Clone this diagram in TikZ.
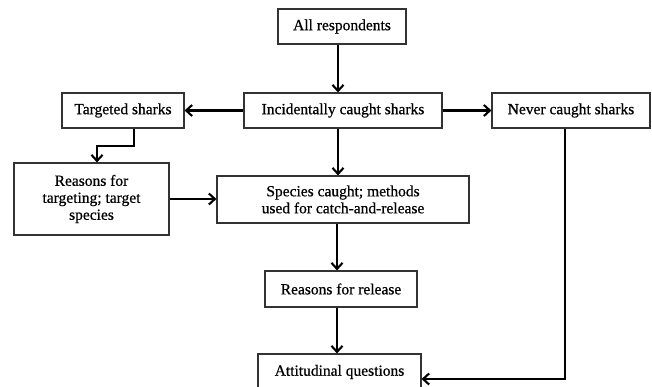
\documentclass[tikz,border=0pt]{standalone}
\usepackage{fontspec}
\setmainfont{Liberation Serif}[FakeBold=0.6]
\usetikzlibrary{arrows.meta}
\begin{document}
\begin{tikzpicture}[x=1pt,y=-1pt,
  box/.style={draw=black!80,line width=1.1pt,fill=white,inner sep=2pt,align=center,font=\fontsize{15.5}{17}\selectfont},
  arr/.style={line width=2.1pt,-{Straight Barb[length=6pt,width=11pt]}},
  ln/.style={line width=2.1pt}]
\useasboundingbox (0,0) rectangle (652,387);
\node[box,minimum width=128pt,minimum height=35pt] (all) at (342,26.5) {All respondents};
\node[box,minimum width=198pt,minimum height=35pt] (inc) at (343,110.5) {Incidentally caught sharks};
\node[box,minimum width=122pt,minimum height=35pt] (tgt) at (123,110.5) {Targeted sharks};
\node[box,minimum width=158pt,minimum height=35pt] (nev) at (571,110.5) {Never caught sharks};
\node[box,minimum width=155pt,minimum height=72pt] (rft) at (91.5,199) {Reasons for\\targeting; target\\species};
\node[box,minimum width=252pt,minimum height=47pt] (spc) at (343,199.5) {Species caught; methods\\used for catch-and-release};
\node[box,minimum width=152pt,minimum height=36pt] (rel) at (341,289) {Reasons for release};
\node[box,minimum width=163pt,minimum height=36pt] (att) at (339.5,372) {Attitudinal questions};
\coordinate (tb) at (134,146);
\coordinate (nb) at (565,379);
\draw[arr] ([xshift=-4pt]all.south) -- ([xshift=-4pt]all.south |- inc.north);
\draw[arr] (inc.west) -- (tgt.east);
\draw[arr] (inc.east) -- (nev.east -| nev.west);
\draw[arr] (tgt.south -| tb) -- (tb) -| ([xshift=5.5pt]rft.north);
\draw[arr] ([xshift=-5pt]inc.south) -- ([xshift=-5pt]inc.south |- spc.north);
\draw[arr] (rft.east) -- (rft.east -| spc.west);
\draw[arr] ([xshift=-6pt]spc.south) -- ([xshift=-6pt]spc.south |- rel.north);
\draw[arr] ([xshift=-4pt]rel.south) -- ([xshift=-4pt]rel.south |- att.north);
\draw[arr] (nev.south -| nb) -- (nb) -- (nb -| att.east);
\end{tikzpicture}
\end{document}
